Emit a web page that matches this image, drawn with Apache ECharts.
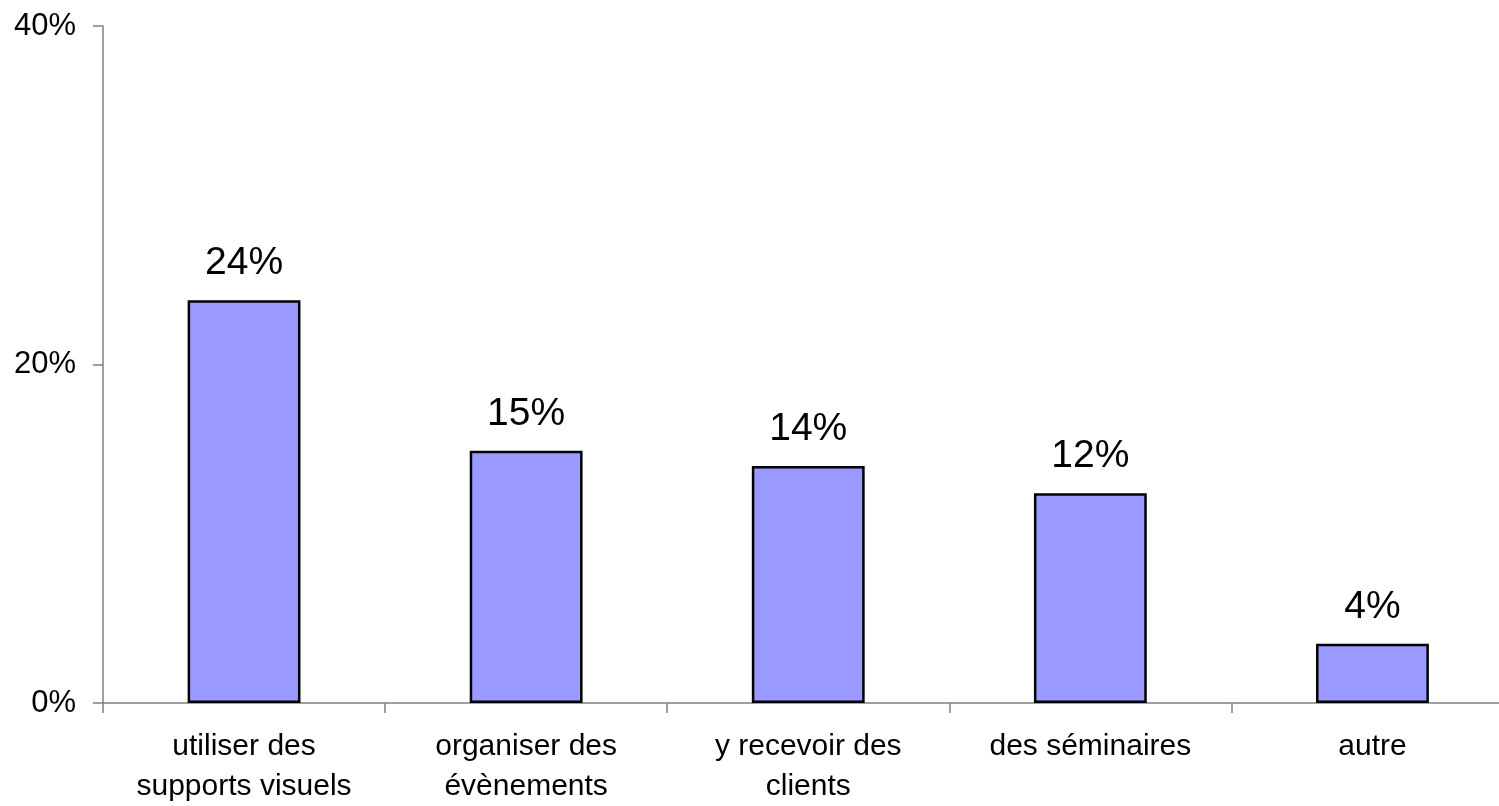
<!DOCTYPE html>
<html>
<head>
<meta charset="utf-8">
<script src="https://cdn.jsdelivr.net/npm/echarts@6/dist/echarts.min.js"></script>
<style>
html,body{margin:0;padding:0;background:#fff;}
#chart{width:1499px;height:806px;}
</style>
</head>
<body>
<div id="chart"></div>
<script>
const categories = ["utiliser des\nsupports visuels", "organiser des\névènements", "y recevoir des\nclients", "des séminaires", "autre"];
const values = [23.8, 14.9, 14.0, 12.4, 3.5];
const yTicks = [0, 20, 40];

const chart = echarts.init(document.getElementById('chart'));
chart.setOption({
  animation: false,
  backgroundColor: '#ffffff',
  grid: { left: 103, width: 1410.5, top: 26, bottom: 103, containLabel: false, outerBoundsMode: 'none' },
  xAxis: {
    type: 'category',
    data: categories,
    axisLine: { lineStyle: { color: '#808080', width: 1.5 } },
    axisTick: { show: true, length: 10, lineStyle: { color: '#808080', width: 1.5 } },
    axisLabel: {
      color: '#000', fontFamily: 'Liberation Sans', fontSize: 30,
      lineHeight: 40, margin: 24, interval: 0
    },
    splitLine: { show: false }
  },
  yAxis: {
    type: 'value',
    min: yTicks[0], max: yTicks[yTicks.length - 1], interval: 20,
    axisLine: { show: true, lineStyle: { color: '#808080', width: 1.5 } },
    axisTick: { show: true, length: 10, lineStyle: { color: '#808080', width: 1.5 } },
    axisLabel: {
      color: '#000', fontFamily: 'Liberation Sans', fontSize: 31, margin: 27,
      formatter: v => v + '%'
    },
    splitLine: { show: false }
  },
  series: [{
    type: 'bar',
    data: values,
    barWidth: '40%',
    itemStyle: { color: '#9999ff', borderColor: '#000', borderWidth: 2.5 },
    label: {
      show: true, position: 'top', distance: 17,
      color: '#000', fontFamily: 'Liberation Sans', fontSize: 39,
      formatter: p => Math.round(p.value) + '%'
    }
  }]
});
</script>
</body>
</html>
